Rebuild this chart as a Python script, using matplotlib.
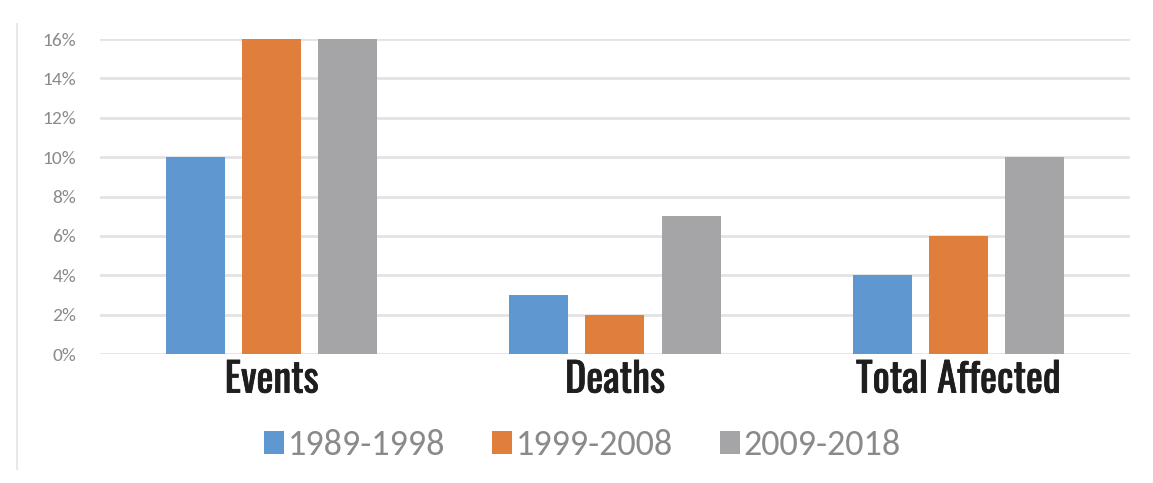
import matplotlib
matplotlib.use("Agg")
import matplotlib.pyplot as plt
import matplotlib.patheffects as pe
import numpy as np
from matplotlib import font_manager

categories = ["Events", "Deaths", "Total Affected"]
series_names = ["1989-1998", "1999-2008", "2009-2018"]
v_1989_1998 = [10, 3, 4]
v_1999_2008 = [16, 2, 6]
v_2009_2018 = [16, 7, 10]
yticks = [0, 2, 4, 6, 8, 10, 12, 14, 16]

colors = ["#5F97D1", "#E07F3C", "#A5A4A7"]

names = {f.name for f in font_manager.fontManager.ttflist}
def pick(cands):
    for c in cands:
        if c in names:
            return c
    return "DejaVu Sans"

cond = pick(["Oswald", "Roboto Condensed", "PT Sans Narrow", "Archivo Narrow", "Fjalla One", "Liberation Sans Narrow"])
body = pick(["Carlito", "Calibri", "Open Sans"])

fig = plt.figure(figsize=(11.53, 4.83), dpi=100)
ax = fig.add_axes([0.0867, 0.267, 0.8933, 0.652])

x = np.arange(len(categories))
w = 0.172
off = 0.222
for i, (vals, name) in enumerate(zip([v_1989_1998, v_1999_2008, v_2009_2018], series_names)):
    ax.bar(x + (i - 1) * off, vals, width=w, color=colors[i], label=name, zorder=3)

ax.set_xlim(-0.5, 2.5)
ax.set_ylim(0, 16)
ax.set_yticks(yticks)
ax.set_yticklabels([f"{t}%" for t in yticks], color="#8A8A8A", fontsize=14, family=body)
ax.grid(axis="y", color="#E3E3E3", linewidth=2, zorder=0)
for s in ax.spines.values():
    s.set_visible(False)
ax.tick_params(axis="y", length=0, pad=17)
ax.tick_params(axis="x", length=0, pad=4)
ax.set_xticks(x)
ax.set_xticklabels(categories, fontsize=29, color="#1E1E1E", family=cond, fontweight="bold")
for t in ax.get_xticklabels():
    t.set_path_effects([pe.withStroke(linewidth=0.6, foreground="#1E1E1E")])

leg = fig.legend(loc="center", bbox_to_anchor=(0.505, 0.079), ncol=3, frameon=False,
                 handlelength=0.55, handleheight=0.6, handletextpad=0.1,
                 columnspacing=1.3, labelcolor="#8A8A8A", prop={"family": body, "size": 26})

fig.add_artist(plt.Line2D([17/1153, 17/1153], [0.03, 0.95], color="#E8E8E8", linewidth=1.5))

fig.savefig("out.png", dpi=100)
